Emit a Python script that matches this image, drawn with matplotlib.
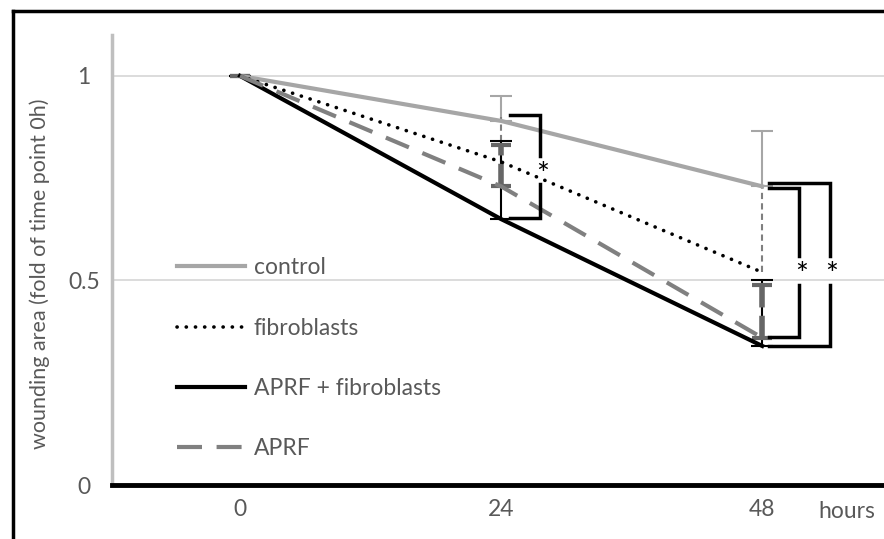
import matplotlib.pyplot as plt
from matplotlib.lines import Line2D

hours = [0, 24, 48]
control = [1.0, 0.89, 0.73]
fibroblasts = [1.0, 0.79, 0.52]
aprf_fib = [1.0, 0.65, 0.34]
aprf = [1.0, 0.73, 0.36]

# upper error bars only
control_err = [0, 0.06, 0.135]
fibroblasts_err = [0, 0.11, 0.21]
aprf_fib_err = [0, 0.19, 0.16]
aprf_err = [0, 0.10, 0.13]

plt.rcParams['font.family'] = ['Lato', 'DejaVu Sans']
txt = '#595959'
fs = 16.5

W, H = 884, 539
fig = plt.figure(figsize=(W / 100, H / 100), dpi=100)
ax = fig.add_axes([112 / W, 54 / H, (884 - 112) / W, (504 - 54) / H])

# error bars (drawn first so the lines sit on top)
ax.errorbar(hours, control, yerr=[[0, 0, 0], control_err], fmt='none',
            ecolor='#a6a6a6', elinewidth=1.5, capsize=8, capthick=1.5, zorder=2)
eb = ax.errorbar(hours, fibroblasts, yerr=[[0, 0, 0], fibroblasts_err], fmt='none',
                 ecolor='#7f7f7f', elinewidth=1.5, capsize=0, zorder=2)
eb[2][0].set_linestyle((0, (3, 2)))
ax.errorbar(hours, aprf_fib, yerr=[[0, 0, 0], aprf_fib_err], fmt='none',
            ecolor='black', elinewidth=1.5, capsize=8, capthick=1.5, zorder=2)
eb = ax.errorbar(hours, aprf, yerr=[[0, 0, 0], aprf_err], fmt='none',
                 ecolor='#666666', elinewidth=4, capsize=7, capthick=3, zorder=2)
eb[2][0].set_linestyle((0, (4, 1.5)))

ax.plot(hours, control, color='#a6a6a6', lw=3, label='control', zorder=3)
ax.plot(hours, fibroblasts, color='black', lw=2.6, ls=(0, (0.05, 2.5)),
        dash_capstyle='round', label='fibroblasts', zorder=3)
ax.plot(hours, aprf_fib, color='black', lw=3, label='APRF + fibroblasts', zorder=3)
ax.plot(hours, aprf, color='#808080', lw=3, ls=(0, (6, 3.5)), label='APRF', zorder=3)

# significance brackets
def bracket(x0, x1, ytop, ybot, ystar):
    gap = 0.035
    ax.plot([x0, x1, x1], [ytop, ytop, ystar + gap], color='black', lw=2.5,
            solid_joinstyle='miter', zorder=4)
    ax.plot([x0, x1, x1], [ybot, ybot, ystar - gap], color='black', lw=2.5,
            solid_joinstyle='miter', zorder=4)
    ax.text(x1 + 0.2, ystar - 0.012, '*', ha='center', va='center', fontsize=22,
            color='black', zorder=5)

bracket(24.8, 27.6, 0.905, 0.653, 0.770)
bracket(48.6, 51.4, 0.726, 0.362, 0.525)
bracket(48.6, 54.2, 0.738, 0.340, 0.525)

ax.set_xlim(-11.77, 59.2)
ax.set_ylim(0, 1.1)
ax.set_yticks([0, 0.5, 1])
ax.set_yticklabels(['0', '0.5', '1'])
ax.set_xticks(hours)
ax.set_xticklabels(['0', '24', '48'])
ax.tick_params(length=0, labelsize=fs, colors=txt, pad=10)
ax.tick_params(axis='y', pad=20)
for lab in ax.get_yticklabels():
    lab.set_ha('center')
ax.grid(axis='y', color='#d9d9d9', lw=1.3)
ax.set_axisbelow(True)

for s in ['top', 'right']:
    ax.spines[s].set_visible(False)
ax.spines['left'].set_color('#bfbfbf')
ax.spines['left'].set_linewidth(2.5)
ax.spines['bottom'].set_color('black')
ax.spines['bottom'].set_linewidth(3.5)

ax.set_ylabel('wounding area (fold of time point 0h)', fontsize=15.5, color=txt)
ax.yaxis.set_label_coords(-62 / 772, 0.47)
fig.text(818 / W, 1 - 511 / H, 'hours', fontsize=fs, color=txt, va='center', ha='left')

leg = ax.legend(loc='upper left', bbox_to_anchor=(56 / 772, (504 - 267) / 450),
                frameon=False, fontsize=fs, labelcolor=txt, handlelength=2.95,
                handletextpad=0.4, labelspacing=1.72, borderaxespad=0)

# outer frame (top and left only are visible)
fig.add_artist(Line2D([13 / W, 13 / W], [0, 1 - 11 / H], color='black', lw=2.5,
                      transform=fig.transFigure))
fig.add_artist(Line2D([13 / W, 1], [1 - 11 / H, 1 - 11 / H], color='black', lw=2.5,
                      transform=fig.transFigure))

fig.savefig('out.png', dpi=100)
